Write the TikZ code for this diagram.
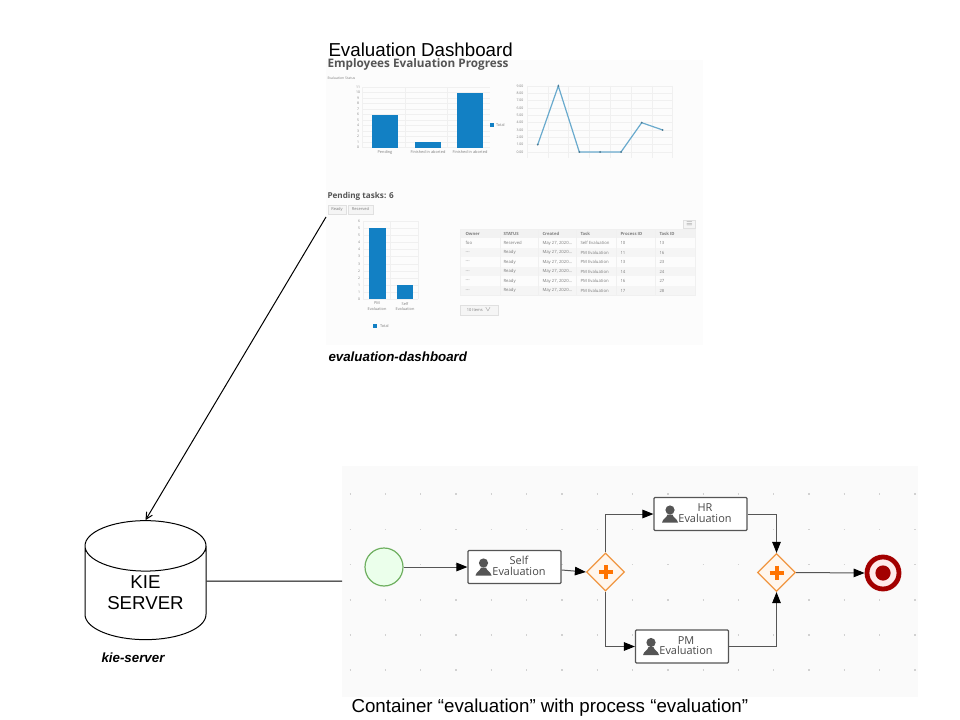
\documentclass[tikz,border=0pt]{standalone}
\usepackage{fontspec}
\setmainfont{Liberation Sans}
\newfontfamily\opensans{Open Sans}
\usetikzlibrary{arrows.meta,shapes.geometric}

\definecolor{barblue}{RGB}{18,128,196}
\definecolor{linkblue}{RGB}{105,170,205}
\definecolor{chartgrid}{RGB}{240,240,240}
\definecolor{chartink}{RGB}{125,125,125}
\definecolor{headink}{RGB}{85,85,85}
\definecolor{flowgrey}{RGB}{85,85,85}
\definecolor{gateorange}{RGB}{240,150,65}
\definecolor{endred}{RGB}{163,0,0}
\definecolor{startgreen}{RGB}{110,175,95}

\tikzset{every picture/.style={line width=0.75pt}}
\tikzset{
  bigtext/.style={anchor=west,inner sep=0pt,font=\fontsize{14.05}{17}\selectfont},
  boldtag/.style={anchor=west,inner sep=0pt,font=\fontsize{10}{12}\selectfont\bfseries\itshape},
  kiecyl/.style={cylinder,shape border rotate=90,aspect=0.66,draw,inner sep=0pt,minimum width=90.75pt,minimum height=89.25pt,align=center,font=\fontsize{14}{15.75}\selectfont},
  plain/.style={-{Straight Barb[length=5pt,width=5pt]},line width=0.75pt},
  headline/.style={anchor=west,inner sep=0pt,text=headink,font=\opensans\fontsize{8.8}{10}\selectfont\bfseries},
  subhead/.style={anchor=west,inner sep=0pt,text=headink,font=\opensans\fontsize{6.1}{8}\selectfont\bfseries},
  ticktext/.style={inner sep=0pt,text=chartink,font=\opensans\fontsize{2.6}{3.2}\selectfont},
  smalltext/.style={inner sep=0pt,text=chartink,align=center,font=\opensans\fontsize{2.9}{4.4}\selectfont},
  cell/.style={anchor=west,inner sep=0pt,text=chartink,font=\opensans\fontsize{3.2}{3.8}\selectfont},
  cellhead/.style={cell,font=\opensans\fontsize{3.2}{3.8}\selectfont\bfseries},
  chartlines/.style={draw=chartgrid,line width=0.3pt},
  barfill/.style={fill=barblue,draw=none},
  smallbtn/.style={draw=black!12,fill=black!4,line width=0.3pt,inner sep=0pt,text=chartink,font=\opensans\fontsize{3}{3.6}\selectfont},
  griddots/.style={draw=black!18,line width=1pt,dash pattern=on 1pt off 25.475pt},
  taskbox/.style={draw=flowgrey,fill=white,rounded corners=0.8pt,line width=0.9pt,minimum width=69.75pt,minimum height=24.75pt,inner sep=0pt},
  tasktext/.style={inner sep=0pt,align=center,text=black!72,font=\opensans\fontsize{8.2}{7.9}\selectfont},
  gateway/.style={diamond,aspect=1,draw=gateorange,fill=orange!7,line width=0.9pt,minimum size=28.5pt,inner sep=0pt},
  gateplus/.style={draw=orange!90!red,line width=3pt},
  flow/.style={-{Triangle[length=8.25pt,width=6.4pt,color=black]},draw=flowgrey,line width=0.75pt},
  person/.pic={
    \fill [flowgrey] (0,12.5) circle [radius=4.6];
    \fill [flowgrey] (-8,0) .. controls (-7,4) and (-3,5) .. (-2.5,8) -- (2.5,8) .. controls (3,5) and (7,4) .. (8,0) -- cycle;
  }
}

\begin{document}
\begin{tikzpicture}[x=0.75pt,y=0.75pt,yscale=-1,xscale=1]
\useasboundingbox (0,0) rectangle (960,720);

% Dashboard and process backgrounds
\fill [black!1] (326,60) rectangle (703,345);
\fill [black!2] (342,466) rectangle (918,697);

% Text Node
\node (dashtitle) [bigtext] at (328,50) {Evaluation Dashboard};
\node (progress) [headline] at (327,64.5) {Employees Evaluation Progress};
\node (statuslbl) [ticktext,anchor=west] at (327,78) {Evaluation Status};

%Bar chart status
\draw [chartlines,xstep=42.7,ystep=5.5,shift={(362,87.2)}] (0,0) grid (128,60.5);
\fill [barfill] (372,115) rectangle (398,147.7);
\fill [barfill] (415,142.2) rectangle (441,147.7);
\fill [barfill] (457,93) rectangle (483,147.7);
\node (sy0) [ticktext] at (358,147.7) {0};
\node (sy1) [ticktext] at (358,142.2) {1};
\node (sy2) [ticktext] at (358,136.7) {2};
\node (sy3) [ticktext] at (358,131.2) {3};
\node (sy4) [ticktext] at (358,125.7) {4};
\node (sy5) [ticktext] at (358,120.2) {5};
\node (sy6) [ticktext] at (358,114.7) {6};
\node (sy7) [ticktext] at (358,109.2) {7};
\node (sy8) [ticktext] at (358,103.7) {8};
\node (sy9) [ticktext] at (358,98.2) {9};
\node (sy10) [ticktext] at (358,92.7) {10};
\node (sy11) [ticktext] at (358,87.2) {11};
\node (sx1) [smalltext] at (385,152.5) {Pending};
\node (sx2) [smalltext] at (428,152.5) {Finished in aborted};
\node (sx3) [smalltext] at (470,152.5) {Finished in aborted};
\fill [barfill] (490,123) rectangle (494,127);
\node (slegend) [smalltext,anchor=west] at (495.5,125) {Total};

%Line chart
\draw [chartlines,xstep=20.8,ystep=7.33,shift={(527,86)}] (0,0) grid (146,72);
\draw [draw=linkblue,line width=0.9pt] (537.7,144.7) -- (558.3,86) -- (579.3,152) -- (600,152) -- (621,152) -- (641.7,122.7) -- (662.7,130);
\fill [linkblue!70!black] (537.7,144.7) circle [radius=1] (558.3,86) circle [radius=1] (579.3,152) circle [radius=1] (600,152) circle [radius=1] (621,152) circle [radius=1] (641.7,122.7) circle [radius=1] (662.7,130) circle [radius=1];
\node (ly0) [ticktext] at (520,152) {0.00};
\node (ly1) [ticktext] at (520,144.7) {1.00};
\node (ly2) [ticktext] at (520,137.3) {2.00};
\node (ly3) [ticktext] at (520,130) {3.00};
\node (ly4) [ticktext] at (520,122.7) {4.00};
\node (ly5) [ticktext] at (520,115.3) {5.00};
\node (ly6) [ticktext] at (520,108) {6.00};
\node (ly7) [ticktext] at (520,100.7) {7.00};
\node (ly8) [ticktext] at (520,93.3) {8.00};
\node (ly9) [ticktext] at (520,86) {9.00};

% Pending tasks
\node (pending) [subhead] at (327,196) {Pending tasks: 6};
\node (readybtn) [smallbtn,minimum width=13.5pt,minimum height=6.75pt] at (337,209.5) {Ready};
\node (reservedbtn) [smallbtn,minimum width=18.75pt,minimum height=6.75pt] at (360.5,209.5) {Reserved};

%Bar chart tasks
\draw [chartlines,xstep=27.5,ystep=7.1,shift={(363,221.2)}] (0,0) grid (55,78.1);
\fill [barfill] (369,228.3) rectangle (385.7,299.3);
\fill [barfill] (396.7,285) rectangle (413,299.3);
\node (py0) [ticktext] at (359,299.3) {0};
\node (py1) [ticktext] at (359,292.2) {1};
\node (py2) [ticktext] at (359,285.1) {1};
\node (py3) [ticktext] at (359,278) {2};
\node (py4) [ticktext] at (359,270.9) {2};
\node (py5) [ticktext] at (359,263.8) {3};
\node (py6) [ticktext] at (359,256.7) {3};
\node (py7) [ticktext] at (359,249.6) {4};
\node (py8) [ticktext] at (359,242.5) {4};
\node (py9) [ticktext] at (359,235.4) {5};
\node (py10) [ticktext] at (359,228.3) {5};
\node (py11) [ticktext] at (359,221.2) {6};
\node (px1) [smalltext] at (377,306.5) {PM\\Evaluation};
\node (px2) [smalltext] at (405,306.5) {Self\\Evaluation};
\fill [barfill] (373,324) rectangle (377,328);
\node (plegend) [smalltext,anchor=west] at (379.5,326) {Total};

%Task table
\fill [black!5] (460,229.3) rectangle (695,238.5);
\fill [black!4] (460,248) rectangle (695,257.5);
\fill [black!4] (460,267) rectangle (695,276.5);
\fill [black!4] (460,286) rectangle (695,295.7);
\draw [chartlines] (460,229.3) rectangle (695,295.7);
\draw [chartlines] (500,229.3) -- (500,295.7);
\draw [chartlines] (538,229.3) -- (538,295.7);
\draw [chartlines] (576,229.3) -- (576,295.7);
\draw [chartlines] (615.7,229.3) -- (615.7,295.7);
\draw [chartlines] (655,229.3) -- (655,295.7);
\node (menubtn) [smallbtn,minimum width=9pt,minimum height=6pt] at (689.5,224) {$\equiv$};
\node (h1) [cellhead] at (465,233.9) {Owner};
\node (h2) [cellhead] at (503,233.9) {STATUS};
\node (h3) [cellhead] at (542,233.9) {Created};
\node (h4) [cellhead] at (580,233.9) {Task};
\node (h5) [cellhead] at (620,233.9) {Process ID};
\node (h6) [cellhead] at (659,233.9) {Task ID};
\node (a1) [cell] at (465,243.3) {foo};
\node (a2) [cell] at (503,243.3) {Reserved};
\node (a3) [cell] at (542,243.3) {May 27, 2020...};
\node (a4) [cell] at (580,243.3) {Self Evaluation};
\node (a5) [cell] at (620,243.3) {10};
\node (a6) [cell] at (659,243.3) {13};
\node (b1) [cell] at (465,252.8) {---};
\node (b2) [cell] at (503,252.8) {Ready};
\node (b3) [cell] at (542,252.8) {May 27, 2020...};
\node (b4) [cell] at (580,252.8) {PM Evaluation};
\node (b5) [cell] at (620,252.8) {11};
\node (b6) [cell] at (659,252.8) {16};
\node (c1) [cell] at (465,262.3) {---};
\node (c2) [cell] at (503,262.3) {Ready};
\node (c3) [cell] at (542,262.3) {May 27, 2020...};
\node (c4) [cell] at (580,262.3) {PM Evaluation};
\node (c5) [cell] at (620,262.3) {13};
\node (c6) [cell] at (659,262.3) {23};
\node (d1) [cell] at (465,271.8) {---};
\node (d2) [cell] at (503,271.8) {Ready};
\node (d3) [cell] at (542,271.8) {May 27, 2020...};
\node (d4) [cell] at (580,271.8) {PM Evaluation};
\node (d5) [cell] at (620,271.8) {14};
\node (d6) [cell] at (659,271.8) {24};
\node (e1) [cell] at (465,281.3) {---};
\node (e2) [cell] at (503,281.3) {Ready};
\node (e3) [cell] at (542,281.3) {May 27, 2020...};
\node (e4) [cell] at (580,281.3) {PM Evaluation};
\node (e5) [cell] at (620,281.3) {16};
\node (e6) [cell] at (659,281.3) {27};
\node (f1) [cell] at (465,290.8) {---};
\node (f2) [cell] at (503,290.8) {Ready};
\node (f3) [cell] at (542,290.8) {May 27, 2020...};
\node (f4) [cell] at (580,290.8) {PM Evaluation};
\node (f5) [cell] at (620,290.8) {17};
\node (f6) [cell] at (659,290.8) {28};
\node (itemsbtn) [smallbtn,minimum width=28.5pt,minimum height=7.5pt] at (479,310) {10 Items \ $\vee$};

\node (dashtag) [boldtag] at (328,357) {evaluation-dashboard};

% KIE server
\node (kie) [kiecyl] at (145.5,593) {KIE\\SERVER};
\node (kietag) [boldtag] at (101,658) {kie-server};
\coordinate (dashfoot) at (326,217);
\coordinate (procedge) at (342,581);
\draw [plain] (dashfoot) -- (kie.north);
\draw [line width=0.75pt] ([yshift=-9]kie.east) -- (procedge);

% Grid dots
\draw [griddots] (349.5,494) -- (918,494);
\draw [griddots] (349.5,529.3) -- (918,529.3);
\draw [griddots] (349.5,564.7) -- (918,564.7);
\draw [griddots] (349.5,600) -- (918,600);
\draw [griddots] (349.5,635) -- (918,635);
\draw [griddots] (349.5,670) -- (918,670);

% Process
\node (startev) [circle,draw=startgreen,fill=green!8,line width=0.9pt,minimum size=28.5pt,inner sep=0pt] at (384,567) {};
\node (selfbox) [taskbox] at (514.5,567) {};
\node (hrbox) [taskbox] at (700.5,514) {};
\node (pmbox) [taskbox] at (682,646.5) {};
\node (gwsplit) [gateway] at (605.5,572) {};
\node (gwjoin) [gateway] at (776.5,572.5) {};
\node (endev) [circle,draw=endred,fill=red!8,line width=3.6pt,minimum size=24pt,inner sep=0pt] at (883,573) {};
\fill [endred] (endev.center) circle [radius=7.6];

\draw [gateplus] ([xshift=-5.25]gwsplit.center) -- ([xshift=5.25]gwsplit.center);
\draw [gateplus] ([yshift=-5.25]gwsplit.center) -- ([yshift=5.25]gwsplit.center);
\draw [gateplus] ([xshift=-5.25]gwjoin.center) -- ([xshift=5.25]gwjoin.center);
\draw [gateplus] ([yshift=-5.25]gwjoin.center) -- ([yshift=5.25]gwjoin.center);

\pic at (483.5,575.5) {person};
\pic at (670,522.5) {person};
\pic at (651,655) {person};
\node (selftxt) [tasktext] at (519,566) {Self\\Evaluation};
\node (hrtxt) [tasktext] at (705,513) {HR\\Evaluation};
\node (pmtxt) [tasktext] at (686,645.5) {PM\\Evaluation};

\draw [flow] (startev) -- (selfbox);
\draw [flow] ([yshift=2.25]selfbox.east) -- (gwsplit.west);
\draw [flow] (gwsplit.north) |- (hrbox.west);
\draw [flow] (gwsplit.south) |- (pmbox.west);
\draw [flow] (hrbox.east) -| (gwjoin.north);
\draw [flow] (pmbox.east) -| (gwjoin.south);
\draw [flow] (gwjoin.east) -- (endev.west);

\node (caption) [bigtext] at (351,708) {Container “evaluation” with process “evaluation”};

\end{tikzpicture}
\end{document}
